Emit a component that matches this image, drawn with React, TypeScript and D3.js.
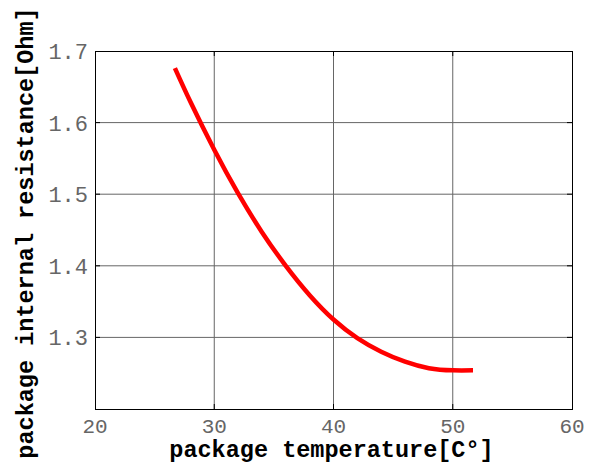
import React, { useEffect, useRef } from 'react';
import * as d3 from 'd3';

// curve
const temperature = [26.7, 28, 30, 32, 34, 36, 38, 40, 42, 44, 46, 48, 50, 51.7];
const resistance = [1.676, 1.629, 1.562, 1.501, 1.447, 1.4, 1.359, 1.325, 1.299, 1.28, 1.266, 1.257, 1.254, 1.254];

const xTicks = [20, 30, 40, 50, 60];
const yTicks = [1.3, 1.4, 1.5, 1.6, 1.7];
const xGrid = [30, 40, 50];
const yGrid = [1.3, 1.4, 1.5, 1.6];

const width = 595;
const height = 469;

const App: React.FC = () => {
  const svgRef = useRef<SVGSVGElement | null>(null);

  useEffect(() => {
    const svg = d3.select(svgRef.current);
    svg.selectAll('*').remove();

    const margin = { top: 51, right: 23, bottom: 60, left: 95 };
    const innerWidth = width - margin.left - margin.right;
    const innerHeight = height - margin.top - margin.bottom;

    const x = d3.scaleLinear().domain([20, 60]).range([0, innerWidth]);
    const y = d3.scaleLinear().domain([1.2, 1.7]).range([innerHeight, 0]);

    const g = svg.append('g').attr('transform', `translate(${margin.left},${margin.top})`);

    // grid
    g.selectAll('.vgrid')
      .data(xGrid)
      .join('line')
      .attr('x1', d => x(d)).attr('x2', d => x(d))
      .attr('y1', 0).attr('y2', innerHeight)
      .attr('stroke', '#666').attr('stroke-width', 1);

    g.selectAll('.hgrid')
      .data(yGrid)
      .join('line')
      .attr('y1', d => y(d)).attr('y2', d => y(d))
      .attr('x1', 0).attr('x2', innerWidth)
      .attr('stroke', '#666').attr('stroke-width', 1);

    // inward tick marks on all sides
    const tickLen = 5;
    xTicks.slice(1, -1).forEach(t => {
      g.append('line').attr('x1', x(t)).attr('x2', x(t)).attr('y1', 0).attr('y2', tickLen).attr('stroke', '#000');
      g.append('line').attr('x1', x(t)).attr('x2', x(t)).attr('y1', innerHeight).attr('y2', innerHeight - tickLen).attr('stroke', '#000');
    });
    yTicks.slice(0, -1).forEach(t => {
      g.append('line').attr('x1', 0).attr('x2', tickLen).attr('y1', y(t)).attr('y2', y(t)).attr('stroke', '#000');
      g.append('line').attr('x1', innerWidth).attr('x2', innerWidth - tickLen).attr('y1', y(t)).attr('y2', y(t)).attr('stroke', '#000');
    });

    // frame
    g.append('rect')
      .attr('x', 0.5).attr('y', 0.5)
      .attr('width', innerWidth).attr('height', innerHeight)
      .attr('fill', 'none').attr('stroke', '#000').attr('stroke-width', 1);

    // tick labels
    g.selectAll('.xlab')
      .data(xTicks)
      .join('text')
      .attr('x', d => x(d))
      .attr('y', innerHeight + 24)
      .attr('text-anchor', 'middle')
      .attr('font-family', '"Liberation Mono", monospace')
      .attr('font-size', 21)
      .attr('fill', '#666')
      .text(d => String(d));

    g.selectAll('.ylab')
      .data(yTicks)
      .join('text')
      .attr('x', -7)
      .attr('y', d => y(d) + 8)
      .attr('text-anchor', 'end')
      .attr('font-family', '"Liberation Mono", monospace')
      .attr('font-size', 22)
      .attr('fill', '#666')
      .text(d => d.toFixed(1));

    // curve
    const line = d3.line<number>()
      .x((d, i) => x(temperature[i]))
      .y(d => y(d))
      .curve(d3.curveNatural);

    g.append('path')
      .datum(resistance)
      .attr('d', line)
      .attr('fill', 'none')
      .attr('stroke', '#ff0000')
      .attr('stroke-width', 4.5);

    // axis titles
    svg.append('text')
      .attr('x', margin.left + innerWidth / 2 - 2)
      .attr('y', 457)
      .attr('text-anchor', 'middle')
      .attr('font-family', '"Liberation Mono", monospace')
      .attr('font-weight', 'bold')
      .attr('font-size', 23.5)
      .attr('fill', '#000')
      .text('package temperature[C°]');

    svg.append('text')
      .attr('transform', `translate(33,${233}) rotate(-90)`)
      .attr('text-anchor', 'middle')
      .attr('font-family', '"Liberation Mono", monospace')
      .attr('font-weight', 'bold')
      .attr('font-size', 23.5)
      .attr('fill', '#000')
      .text('package internal resistance[Ohm]');
  }, []);

  return (
    <svg
      ref={svgRef}
      width={width}
      height={height}
      style={{ position: 'absolute', top: 0, left: 0, background: '#fff' }}
    />
  );
};

export default App;
